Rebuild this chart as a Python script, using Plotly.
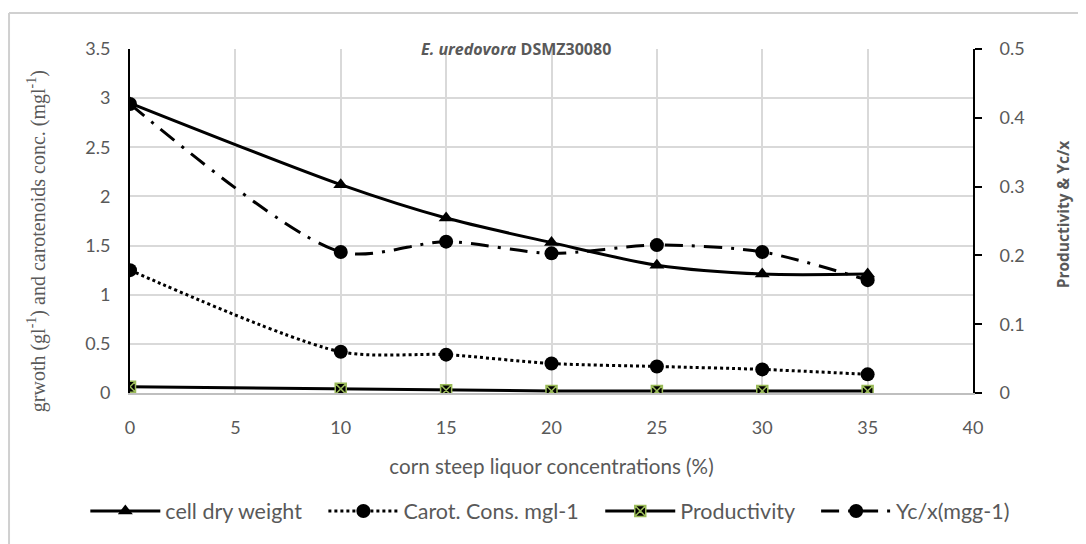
import plotly.graph_objects as go

x = [0, 10, 15, 20, 25, 30, 35]
cell_dry_weight = [2.95, 2.12, 1.78, 1.53, 1.30, 1.21, 1.21]
carot_cons = [1.25, 0.42, 0.39, 0.30, 0.27, 0.24, 0.19]
productivity = [0.009, 0.006, 0.004, 0.003, 0.003, 0.003, 0.003]
yc_x = [0.42, 0.205, 0.22, 0.203, 0.215, 0.205, 0.164]

x_ticks = [0, 5, 10, 15, 20, 25, 30, 35, 40]
y1_ticks = [0, 0.5, 1, 1.5, 2, 2.5, 3, 3.5]
y2_ticks = [0, 0.1, 0.2, 0.3, 0.4, 0.5]

GRAY = "#595959"
GRID = "#d9d9d9"
SANS = "Lato, Open Sans, sans-serif"
TICKFONT = dict(family=SANS, size=18, color=GRAY)
PAD = "\u00a0" * 3

fig = go.Figure()

fig.add_trace(go.Scatter(
    x=x, y=cell_dry_weight, name="cell dry weight" + PAD, mode="lines+markers",
    line=dict(color="black", width=3, shape="spline", smoothing=0.8),
    marker=dict(symbol="triangle-up", size=13, color="black"),
))
fig.add_trace(go.Scatter(
    x=x, y=carot_cons, name="Carot. Cons. mgl-1" + PAD, mode="lines+markers",
    line=dict(color="black", width=3, dash="dot", shape="spline", smoothing=0.8),
    marker=dict(symbol="circle", size=14, color="black"),
))
fig.add_trace(go.Scatter(
    x=x, y=productivity, name="Productivity" + PAD, mode="lines+markers", yaxis="y2",
    line=dict(color="black", width=3),
    marker=dict(symbol="square-x", size=11, color="black",
                line=dict(color="#9bbb59", width=1.5)),
))
fig.add_trace(go.Scatter(
    x=x, y=yc_x, name="Yc/x(mgg-1)", mode="lines+markers", yaxis="y2",
    line=dict(color="black", width=3, dash="18px,9px,3px,9px", shape="spline", smoothing=0.8),
    marker=dict(symbol="circle", size=14, color="black"),
))

fig.update_layout(
    width=1086, height=544,
    margin=dict(l=122, r=121, t=41, b=159),
    paper_bgcolor="white", plot_bgcolor="white",
    showlegend=True,
    legend=dict(orientation="h", x=-0.053, xanchor="left", y=-0.343, yanchor="middle",
                font=dict(family=SANS, size=21.5, color=GRAY),
                itemwidth=70, bgcolor="rgba(0,0,0,0)"),
    xaxis=dict(
        range=[0, 40], tickvals=x_ticks, showgrid=True, gridcolor=GRID, gridwidth=1.5,
        zeroline=False, showline=True, linecolor="#bfbfbf", linewidth=1.5,
        tickfont=TICKFONT, ticks="", ticklabelstandoff=18,
        title=dict(text="corn steep liquor concentrations (%)", standoff=22,
                   font=dict(family=SANS, size=20.6, color=GRAY)),
    ),
    yaxis=dict(
        range=[0, 3.5], tickvals=y1_ticks, showgrid=True, gridcolor=GRID, gridwidth=1.5,
        zeroline=False, showline=True, linecolor="black", linewidth=2,
        tickfont=TICKFONT, ticks="", ticklabelstandoff=14,
    ),
    yaxis2=dict(
        range=[0, 0.5], tickvals=y2_ticks, overlaying="y", side="right",
        showgrid=False, zeroline=False, showline=True, linecolor="black", linewidth=2,
        ticks="outside", ticklen=7, tickwidth=2, tickcolor="black",
        tickfont=TICKFONT, ticklabelstandoff=14,
    ),
    annotations=[
        dict(text="<b><i>E. uredovora</i> DSMZ30080</b>", xref="paper", yref="paper",
             x=0.458, y=1.0, xanchor="center", yanchor="middle", showarrow=False,
             font=dict(family="Open Sans, sans-serif", size=16, color=GRAY)),
        dict(text="grwoth (gl<sup>-1</sup>) and carotenoids conc. (mgl<sup>-1</sup>)",
             xref="paper", yref="paper", x=-0.110, y=0.442, textangle=-90,
             xanchor="center", yanchor="middle", showarrow=False,
             font=dict(family="Liberation Serif, serif", size=20, color=GRAY)),
        dict(text="<b>Productivity & Yc/x</b>", xref="paper", yref="paper",
             x=1.107, y=0.52, textangle=-90, xanchor="center", yanchor="middle",
             showarrow=False,
             font=dict(family="Open Sans, sans-serif", size=15.5, color=GRAY)),
    ],
    shapes=[
        dict(type="line", xref="paper", yref="paper", x0=-0.1435, x1=-0.1435, y0=-0.46, y1=1.1047,
             line=dict(color="#d0d0d0", width=2), layer="above"),
        dict(type="line", xref="paper", yref="paper", x0=-0.1435, x1=1.2, y0=1.1047, y1=1.1047,
             line=dict(color="#d0d0d0", width=2), layer="above"),
    ],
)

fig.write_html("out.html")
